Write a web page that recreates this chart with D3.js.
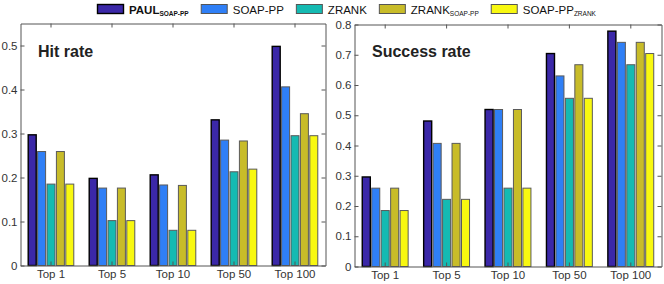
<!DOCTYPE html>
<html>
<head>
<meta charset="utf-8">
<script src="https://cdn.jsdelivr.net/npm/d3@7.9.0/dist/d3.min.js"></script>
<style>
  body { margin: 0; background: #fff; }
  svg { display: block; font-family: "Liberation Sans", Arial, sans-serif; }
  .axis text { font-size: 11.5px; fill: #333; }
  .axis path, .axis line { stroke: #555; }
</style>
</head>
<body>
<svg width="664" height="284"></svg>
<script>
const categories = ['Top 1', 'Top 5', 'Top 10', 'Top 50', 'Top 100'];
const seriesNames = ['PAUL', 'SOAP-PP', 'ZRANK', 'ZRANK', 'SOAP-PP'];
const seriesSubs = ['SOAP-PP', '', '', 'SOAP-PP', 'ZRANK'];
const seriesColors = ['#3b28a8', '#2f7ff6', '#15bab2', '#c8bc29', '#f8f810'];

// hit rate, one row per category
const hitRate = [
    [0.297, 0.259, 0.185, 0.259, 0.185],
    [0.198, 0.176, 0.102, 0.176, 0.102],
    [0.206, 0.183, 0.080, 0.182, 0.080],
    [0.331, 0.285, 0.213, 0.283, 0.219],
    [0.498, 0.406, 0.295, 0.345, 0.295]
];
// success rate
const successRate = [
    [0.296, 0.259, 0.185, 0.259, 0.185],
    [0.481, 0.407, 0.222, 0.407, 0.222],
    [0.519, 0.519, 0.259, 0.519, 0.259],
    [0.704, 0.630, 0.556, 0.667, 0.556],
    [0.778, 0.741, 0.667, 0.741, 0.704]
];
const hitTicks = [0, 0.1, 0.2, 0.3, 0.4, 0.5];
const successTicks = [0, 0.1, 0.2, 0.3, 0.4, 0.5, 0.6, 0.7, 0.8];

const svg = d3.select('svg');
const fmt = (d) => d === 0 ? '0' : d3.format('.1f')(d);

function drawPanel(values, ticks, yMax, box, title) {
    const x0 = d3.scaleBand()
        .domain(categories)
        .range([box.left, box.right]);
    const x1 = d3.scaleBand()
        .domain(d3.range(seriesNames.length))
        .range([0, x0.bandwidth()])
        .paddingInner(0.15)
        .paddingOuter(0.82);
    const y = d3.scaleLinear()
        .domain([0, yMax])
        .range([box.bottom, box.top]);

    const g = svg.append('g');

    // bars
    categories.forEach((cat, ci) => {
        values[ci].forEach((v, si) => {
            g.append('rect')
                .attr('x', x0(cat) + x1(si))
                .attr('y', y(v))
                .attr('width', x1.bandwidth())
                .attr('height', y(0) - y(v))
                .attr('fill', seriesColors[si])
                .attr('stroke', si === 0 ? '#000' : '#5a5a5a')
                .attr('stroke-width', si === 0 ? 1.4 : 1);
        });
    });

    // axes, ticks pointing inwards
    g.append('g')
        .attr('class', 'axis')
        .attr('transform', `translate(${box.left},0)`)
        .call(d3.axisLeft(y).tickValues(ticks).tickFormat(fmt)
            .tickSizeInner(-4).tickSizeOuter(0).tickPadding(3));
    g.append('g')
        .attr('class', 'axis')
        .attr('transform', `translate(${box.right},0)`)
        .call(d3.axisRight(y).tickValues(ticks).tickFormat('')
            .tickSizeInner(-4).tickSizeOuter(0));
    g.append('g')
        .attr('class', 'axis')
        .attr('transform', `translate(0,${box.bottom})`)
        .call(d3.axisBottom(x0).tickSizeInner(-4).tickSizeOuter(0).tickPadding(4));
    g.append('g')
        .attr('class', 'axis')
        .attr('transform', `translate(0,${box.top})`)
        .call(d3.axisTop(x0).tickFormat('').tickSizeInner(-4).tickSizeOuter(0));

    g.append('text')
        .attr('x', box.left + 17.5)
        .attr('y', 57)
        .attr('font-size', 16)
        .attr('font-weight', 'bold')
        .attr('fill', '#222')
        .text(title);
}

drawPanel(hitRate, hitTicks, 0.55,
    { left: 20.5, right: 325.5, top: 23.5, bottom: 265.5 }, 'Hit rate');
drawPanel(successRate, successTicks, 0.8,
    { left: 354.5, right: 661.5, top: 24.5, bottom: 266.5 }, 'Success rate');

// legend
const legend = svg.append('g').attr('transform', 'translate(97,0)');
let lx = 0;
seriesNames.forEach((name, i) => {
    legend.append('rect')
        .attr('x', lx + 0.5)
        .attr('y', 4.5)
        .attr('width', 26)
        .attr('height', 9)
        .attr('fill', seriesColors[i])
        .attr('stroke', i === 0 ? '#000' : '#555')
        .attr('stroke-width', i === 0 ? 1.4 : 1);
    const t = legend.append('text')
        .attr('x', lx + 32)
        .attr('y', 14)
        .attr('font-size', 11.5)
        .attr('fill', '#111')
        .attr('font-weight', i === 0 ? 'bold' : 'normal');
    t.append('tspan').text(name);
    if (seriesSubs[i]) {
        t.append('tspan')
            .attr('font-size', 6.5)
            .attr('dy', 2)
            .text(seriesSubs[i]);
    }
    lx += 32 + t.node().getComputedTextLength() + 12;
});
</script>
</body>
</html>
